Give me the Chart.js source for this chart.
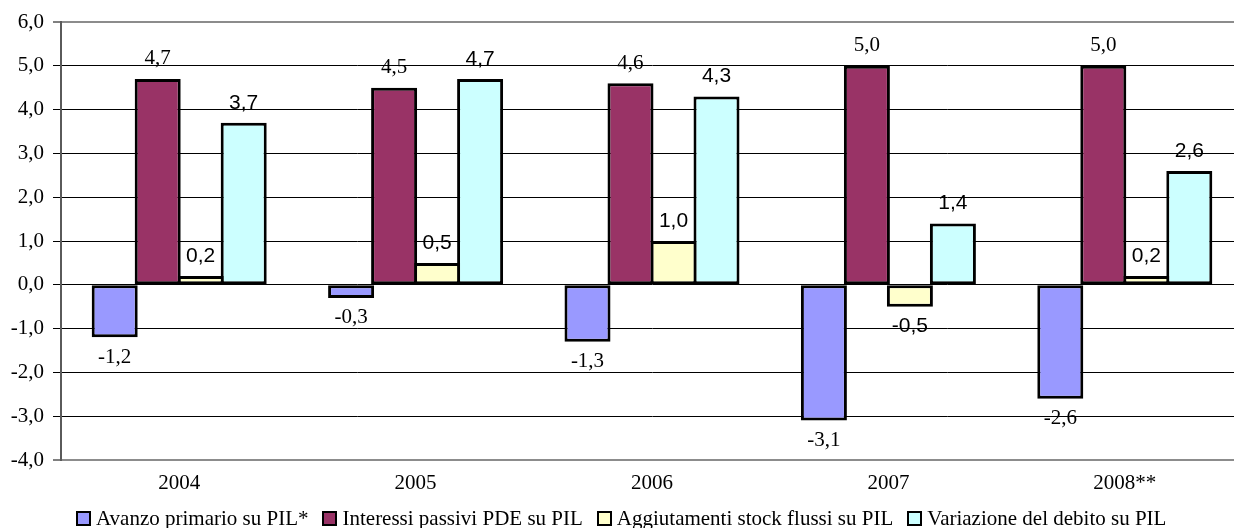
<!DOCTYPE html>
<html>
<head>
<meta charset="utf-8">
<script src="https://cdn.jsdelivr.net/npm/chart.js@4/dist/chart.umd.min.js"></script>
<style>
  html, body { margin: 0; padding: 0; overflow: hidden; background: #fff; }
  #wrap { position: absolute; left: 0; top: 0; width: 1250px; height: 528px; }
</style>
</head>
<body>
<div id="wrap"><canvas id="c" width="1250" height="528"></canvas></div>
<script>
// Categories and series (% of GDP)
const categories = ['2004', '2005', '2006', '2007', '2008**'];
const avanzoPrimario = [-1.2, -0.3, -1.3, -3.1, -2.6];
const interessiPassivi = [4.7, 4.5, 4.6, 5.0, 5.0];
const aggiustamenti = [0.2, 0.5, 1.0, -0.5, 0.2];
const variazioneDebito = [3.7, 4.7, 4.3, 1.4, 2.6];
const seriesNames = [
  'Avanzo primario su PIL*',
  'Interessi passivi PDE su PIL',
  'Aggiutamenti stock flussi su PIL',
  'Variazione del debito su PIL'
];
const yMin = -4, yMax = 6, yStep = 1;

const SERIF = '"Liberation Serif", "Times New Roman", serif';
const SANS = '"Liberation Sans", Arial, sans-serif';
const fmt = v => v.toFixed(1).replace('.', ',');

// Value labels above/below each bar
const valueLabels = {
  id: 'valueLabels',
  afterDatasetsDraw(chart) {
    const ctx = chart.ctx;
    ctx.save();
    ctx.fillStyle = '#000';
    ctx.textAlign = 'center';
    ctx.textBaseline = 'middle';
    chart.data.datasets.forEach((ds, di) => {
      const meta = chart.getDatasetMeta(di);
      ctx.font = '21px ' + (ds.labelFont === 'sans' ? SANS : SERIF);
      meta.data.forEach((el, i) => {
        const v = ds.data[i];
        const y = v >= 0 ? el.y - 20 : el.y + 20;
        ctx.fillText(fmt(v), el.x, y);
      });
    });
    ctx.restore();
  }
};

// Legend row under the axis
const bottomLegend = {
  id: 'bottomLegend',
  afterDraw(chart) {
    const ctx = chart.ctx;
    const box = 15, gapText = 5, gapItem = 14, cy = 518, centerX = 621;
    ctx.save();
    ctx.font = '21px ' + SERIF;
    const items = chart.data.datasets.map(ds => ({
      text: ds.label, color: ds.backgroundColor, w: ctx.measureText(ds.label).width
    }));
    const total = items.reduce((s, it) => s + box + gapText + it.w, 0) + gapItem * (items.length - 1);
    let x = Math.round(centerX - total / 2);
    ctx.textBaseline = 'middle';
    ctx.textAlign = 'left';
    items.forEach(it => {
      const bx = Math.round(x), by = Math.round(cy - box / 2);
      ctx.fillStyle = it.color;
      ctx.fillRect(bx, by, box, box);
      ctx.strokeStyle = '#000';
      ctx.lineWidth = 2;
      ctx.strokeRect(bx + 1, by + 1, box - 2, box - 2);
      ctx.fillStyle = '#000';
      ctx.fillText(it.text, x + box + gapText, cy + 1);
      x += box + gapText + it.w + gapItem;
    });
    ctx.restore();
  }
};

const barStyle = {
  borderColor: '#000',
  borderWidth: 3,
  borderSkipped: false,
  categoryPercentage: 0.7276,
  barPercentage: 1.07
};

new Chart(document.getElementById('c'), {
  type: 'bar',
  data: {
    labels: categories,
    datasets: [
      Object.assign({ label: seriesNames[0], data: avanzoPrimario, backgroundColor: '#9999FF', labelFont: 'serif' }, barStyle),
      Object.assign({ label: seriesNames[1], data: interessiPassivi, backgroundColor: '#993366', labelFont: 'serif' }, barStyle),
      Object.assign({ label: seriesNames[2], data: aggiustamenti, backgroundColor: '#FFFFCC', labelFont: 'sans' }, barStyle),
      Object.assign({ label: seriesNames[3], data: variazioneDebito, backgroundColor: '#CCFFFF', labelFont: 'sans' }, barStyle)
    ]
  },
  options: {
    responsive: false,
    animation: false,
    devicePixelRatio: 1,
    layout: { padding: { left: 0, right: 7, top: 22, bottom: 32 } },
    plugins: {
      legend: { display: false },
      tooltip: { enabled: false }
    },
    scales: {
      x: {
        grid: { display: false, drawTicks: false },
        border: { display: false },
        ticks: { color: '#000', font: { family: SERIF, size: 21 }, padding: 11, maxRotation: 0 },
        afterFit: s => { s.height = 36; }
      },
      y: {
        min: yMin,
        max: yMax,
        ticks: {
          stepSize: yStep,
          color: '#000',
          font: { family: SERIF, size: 21 },
          padding: 9,
          callback: v => fmt(v)
        },
        grid: {
          color: c => (c.tick && (c.tick.value === yMax || c.tick.value === yMin)) ? '#8c8c8c' : '#000',
          lineWidth: c => (c.tick && (c.tick.value === yMax || c.tick.value === yMin)) ? 2 : 1,
          tickColor: '#000',
          tickWidth: 1,
          tickLength: 8,
          drawTicks: true
        },
        border: { display: true, color: '#5a5a5a', width: 2 },
        afterFit: s => { s.width = 61; }
      }
    }
  },
  plugins: [valueLabels, bottomLegend]
});
</script>
</body>
</html>
